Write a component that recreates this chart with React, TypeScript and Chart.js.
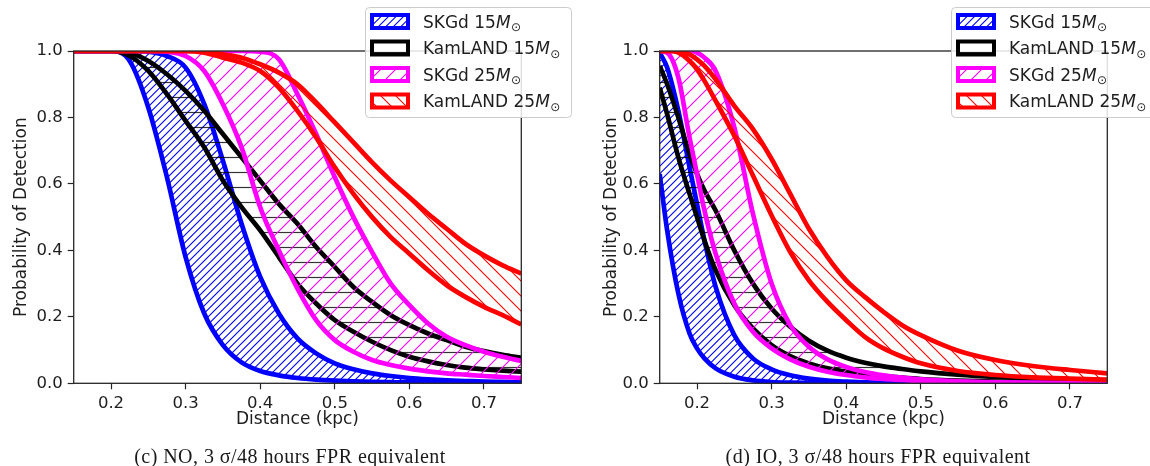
import React, { useEffect, useRef } from 'react';
import { Chart, registerables } from 'chart.js';

Chart.register(...registerables);

// ---------- data ----------
const xTicks = [0.2, 0.3, 0.4, 0.5, 0.6, 0.7];
const yTicks = [0.0, 0.2, 0.4, 0.6, 0.8, 1.0];

const legendNames = ['SKGd 15', 'KamLAND 15', 'SKGd 25', 'KamLAND 25'];
const massUnit = 'M';
const massSub = '⊙';
const xTitle = 'Distance (kpc)';
const yTitle = 'Probability of Detection';
const captions = ['(c) NO, 3 σ/48 hours FPR equivalent', '(d) IO, 3 σ/48 hours FPR equivalent'];

// Normal ordering (NO)
const noDistance = [0.15, 0.175, 0.2, 0.225, 0.25, 0.275, 0.3, 0.325, 0.35, 0.375, 0.4, 0.425, 0.45, 0.475, 0.5, 0.525, 0.55, 0.575, 0.6, 0.625, 0.65, 0.675, 0.7, 0.725, 0.75];
const noSkgd15Lo = [1, 1, 1, 0.97, 0.83, 0.62, 0.38, 0.21, 0.115, 0.063, 0.037, 0.024, 0.016, 0.011, 0.008, 0.006, 0.0045, 0.0035, 0.0025, 0.002, 0.0015, 0.001, 0.0008, 0.0005, 0.0003];
const noSkgd15Hi = [1, 1, 1, 1, 0.998, 0.985, 0.95, 0.84, 0.67, 0.48, 0.32, 0.21, 0.135, 0.09, 0.06, 0.042, 0.03, 0.022, 0.016, 0.012, 0.009, 0.007, 0.005, 0.004, 0.003];
const noKam15Lo = [1, 1, 1, 0.985, 0.94, 0.87, 0.79, 0.71, 0.61, 0.53, 0.46, 0.38, 0.3, 0.24, 0.19, 0.155, 0.125, 0.1, 0.08, 0.066, 0.055, 0.047, 0.042, 0.038, 0.035];
const noKam15Hi = [1, 1, 1, 0.995, 0.97, 0.93, 0.88, 0.82, 0.75, 0.68, 0.61, 0.54, 0.48, 0.41, 0.35, 0.29, 0.245, 0.205, 0.175, 0.15, 0.13, 0.11, 0.097, 0.086, 0.077];
const noSkgd25Lo = [1, 1, 1, 1, 1, 0.998, 0.985, 0.94, 0.84, 0.71, 0.53, 0.4, 0.285, 0.19, 0.13, 0.095, 0.07, 0.055, 0.044, 0.036, 0.03, 0.026, 0.022, 0.019, 0.016];
const noSkgd25Hi = [1, 1, 1, 1, 1, 1, 1, 1, 1, 1, 0.998, 0.975, 0.87, 0.75, 0.62, 0.5, 0.395, 0.3, 0.235, 0.18, 0.14, 0.115, 0.095, 0.08, 0.067];
const noKam25Lo = [1, 1, 1, 1, 1, 1, 1, 0.995, 0.98, 0.965, 0.94, 0.89, 0.82, 0.74, 0.65, 0.57, 0.5, 0.44, 0.39, 0.34, 0.295, 0.26, 0.23, 0.205, 0.177];
const noKam25Hi = [1, 1, 1, 1, 1, 1, 1, 1, 0.99, 0.98, 0.96, 0.935, 0.9, 0.845, 0.785, 0.725, 0.665, 0.61, 0.56, 0.51, 0.465, 0.42, 0.385, 0.355, 0.33];

// Inverted ordering (IO)
const ioDistance = [0.15, 0.16, 0.175, 0.19, 0.2, 0.21, 0.225, 0.25, 0.275, 0.3, 0.325, 0.35, 0.375, 0.4, 0.425, 0.45, 0.475, 0.5, 0.55, 0.6, 0.65, 0.7, 0.75];
const ioSkgd15Lo = [0.63, 0.46, 0.27, 0.15, 0.105, 0.075, 0.045, 0.02, 0.009, 0.004, 0.002, 0.001, 0.0005, 0.0003, 0.0002, 0.0001, 0, 0, 0, 0, 0, 0, 0];
const ioSkgd15Hi = [0.995, 0.95, 0.82, 0.65, 0.54, 0.43, 0.29, 0.145, 0.075, 0.042, 0.024, 0.014, 0.008, 0.005, 0.003, 0.002, 0.0012, 0.0008, 0.0004, 0.0002, 0.0001, 0, 0];
const ioKam15Lo = [0.89, 0.81, 0.68, 0.57, 0.5, 0.43, 0.34, 0.235, 0.165, 0.115, 0.082, 0.06, 0.045, 0.035, 0.028, 0.022, 0.017, 0.013, 0.008, 0.005, 0.003, 0.002, 0.001];
const ioKam15Hi = [0.955, 0.9, 0.8, 0.69, 0.63, 0.58, 0.52, 0.4, 0.3, 0.225, 0.17, 0.128, 0.098, 0.077, 0.062, 0.051, 0.043, 0.036, 0.026, 0.019, 0.014, 0.01, 0.008];
const ioSkgd25Lo = [1, 0.995, 0.92, 0.74, 0.63, 0.52, 0.39, 0.24, 0.155, 0.105, 0.072, 0.05, 0.035, 0.025, 0.018, 0.013, 0.01, 0.007, 0.004, 0.002, 0.001, 0.0005, 0.0003];
const ioSkgd25Hi = [1, 1, 1, 1, 0.995, 0.98, 0.94, 0.77, 0.51, 0.3, 0.175, 0.11, 0.072, 0.049, 0.034, 0.024, 0.017, 0.012, 0.006, 0.003, 0.0015, 0.0008, 0.0004];
const ioKam25Lo = [1, 1, 0.995, 0.97, 0.945, 0.91, 0.85, 0.745, 0.625, 0.505, 0.395, 0.31, 0.245, 0.19, 0.14, 0.105, 0.08, 0.06, 0.037, 0.025, 0.018, 0.014, 0.011];
const ioKam25Hi = [1, 1, 1, 0.99, 0.975, 0.955, 0.915, 0.835, 0.765, 0.675, 0.57, 0.465, 0.38, 0.31, 0.26, 0.215, 0.175, 0.145, 0.098, 0.07, 0.052, 0.04, 0.03];

// ---------- styling ----------
const BLUE = '#0000ff';
const BLACK = '#000000';
const MAGENTA = '#ff00ff';
const RED = '#ff0000';
const TEXT = '#1e1e1e';
const FONT = '"DejaVu Sans", sans-serif';

type HatchKind = 'ne2' | 'h' | 'ne' | 'nw';

function makeHatch(kind: HatchKind, color: string, alpha = 1): CanvasPattern {
  const s = 15;
  const c = document.createElement('canvas');
  c.width = s;
  c.height = s;
  const g = c.getContext('2d')!;
  g.strokeStyle = color;
  g.globalAlpha = alpha;
  g.lineWidth = kind === 'h' ? 1.2 : 1.1;
  g.beginPath();
  if (kind === 'h') {
    g.moveTo(-1, 7.5);
    g.lineTo(s + 1, 7.5);
  } else {
    const step = kind === 'ne2' ? s / 2 : s;
    for (let k = -s; k <= 2 * s + 0.01; k += step) {
      if (kind === 'nw') {
        g.moveTo(k - 2, -2);
        g.lineTo(k + s + 2, s + 2);
      } else {
        g.moveTo(k - s - 2, s + 2);
        g.lineTo(k + 2, -2);
      }
    }
  }
  g.stroke();
  return g.createPattern(c, 'repeat')!;
}

type PanelProps = {
  left: number;
  dist: number[];
  bands: number[][]; // [s15lo, s15hi, k15lo, k15hi, s25lo, s25hi, k25lo, k25hi]
  yTitleCenter: number;
};

const CW = 580;
const CH = 466;
const AREA_LEFT = 73.7;
const AREA_RIGHT = 521.3;
const AREA_TOP = 51;
const AREA_BOTTOM = 383.3;

function Panel({ left, dist, bands, yTitleCenter }: PanelProps) {
  const ref = useRef<HTMLCanvasElement>(null);

  useEffect(() => {
    const canvas = ref.current!;
    const colors = [BLUE, BLACK, MAGENTA, RED];
    const kinds: HatchKind[] = ['ne2', 'h', 'ne', 'nw'];
    const patterns = colors.map((c, i) => makeHatch(kinds[i], c, i === 1 ? 0.8 : 1));
    const pts = (ys: number[]) => dist.map((x, i) => ({ x, y: ys[i] }));

    const datasets: any[] = [];
    // top-most band first (Chart.js draws the first dataset last)
    for (let b = 3; b >= 0; b--) {
      const lo = bands[b * 2];
      const hi = bands[b * 2 + 1];
      datasets.push({
        label: legendNames[b] + ' hi',
        data: pts(hi),
        borderColor: colors[b],
        borderWidth: 4.7,
        fill: false,
        pointRadius: 0,
        cubicInterpolationMode: 'monotone',
        clip: 0,
      });
      datasets.push({
        label: legendNames[b] + ' lo',
        data: pts(lo),
        borderColor: colors[b],
        borderWidth: 4.7,
        backgroundColor: patterns[b],
        fill: '-1',
        pointRadius: 0,
        cubicInterpolationMode: 'monotone',
        clip: 0,
      });
    }

    const yTitleFont = 17;
    const padLeft = yTitleCenter - (yTitleFont * 1.2) / 2;
    const xScaleH = 46;

    const framePlugin = {
      id: 'frame',
      afterDatasetsDraw(chart: any) {
        const { ctx, chartArea: a } = chart;
        ctx.save();
        ctx.strokeStyle = '#262626';
        ctx.lineWidth = 1.3;
        ctx.strokeRect(a.left, a.top, a.right - a.left, a.bottom - a.top);
        ctx.restore();
      },
    };

    const legendPlugin = {
      id: 'hatchLegend',
      afterDraw(chart: any) {
        const { ctx, chartArea: a } = chart;
        const lx = a.right - 156.3;
        const ly = 7;
        const lw = 206;
        const lh = 110;
        ctx.save();
        ctx.beginPath();
        (ctx as any).roundRect(lx + 0.5, ly + 0.5, lw, lh, 4);
        ctx.fillStyle = 'rgba(255,255,255,0.85)';
        ctx.fill();
        ctx.strokeStyle = '#cccccc';
        ctx.lineWidth = 1;
        ctx.stroke();
        for (let i = 0; i < 4; i++) {
          const cy = ly + 14.5 + i * 26.5;
          const px = lx + 7;
          const py = cy - 6.5;
          const pw = 36;
          const ph = 13;
          ctx.fillStyle = '#ffffff';
          ctx.fillRect(px, py, pw, ph);
          ctx.fillStyle = patterns[i];
          ctx.fillRect(px, py, pw, ph);
          ctx.strokeStyle = colors[i];
          ctx.lineWidth = 4;
          ctx.strokeRect(px, py, pw, ph);

          let tx = lx + 58;
          const base = cy + 6;
          ctx.fillStyle = TEXT;
          ctx.textBaseline = 'alphabetic';
          ctx.textAlign = 'left';
          ctx.font = `17px ${FONT}`;
          ctx.fillText(legendNames[i], tx, base);
          tx += ctx.measureText(legendNames[i]).width;
          ctx.font = `oblique 17px ${FONT}`;
          ctx.fillText(massUnit, tx, base);
          tx += ctx.measureText(massUnit).width + 0.5;
          ctx.font = `12px ${FONT}`;
          ctx.fillText(massSub, tx, base + 3.5);
        }
        ctx.restore();
      },
    };

    const chart = new Chart(canvas, {
      type: 'line',
      data: { datasets },
      options: {
        responsive: false,
        animation: false,
        events: [],
        layout: {
          padding: {
            left: padLeft,
            right: CW - AREA_RIGHT,
            top: AREA_TOP,
            bottom: CH - AREA_BOTTOM - xScaleH,
          },
        },
        plugins: {
          legend: { display: false },
          tooltip: { enabled: false },
        },
        scales: {
          x: {
            type: 'linear',
            min: 0.15,
            max: 0.75,
            afterFit: (s: any) => {
              s.height = xScaleH;
            },
            afterBuildTicks: (s: any) => {
              s.ticks = xTicks.map((v) => ({ value: v }));
            },
            ticks: {
              callback: (v: any) => Number(v).toFixed(1),
              font: { family: FONT, size: 16.5 },
              color: TEXT,
              padding: 5,
              maxRotation: 0,
              autoSkip: false,
            },
            grid: {
              display: true,
              drawOnChartArea: false,
              drawTicks: true,
              tickLength: 6,
              tickWidth: 1.2,
              tickColor: '#262626',
            },
            border: { display: false },
            title: {
              display: true,
              text: xTitle,
              color: TEXT,
              font: { family: FONT, size: 17 },
              padding: { top: 0, bottom: 0 },
            },
          },
          y: {
            type: 'linear',
            min: 0,
            max: 1,
            afterFit: (s: any) => {
              s.width = AREA_LEFT - padLeft;
            },
            afterBuildTicks: (s: any) => {
              s.ticks = yTicks.map((v) => ({ value: v }));
            },
            ticks: {
              callback: (v: any) => Number(v).toFixed(1),
              font: { family: FONT, size: 16.5 },
              color: TEXT,
              padding: 5,
              autoSkip: false,
            },
            grid: {
              display: true,
              drawOnChartArea: false,
              drawTicks: true,
              tickLength: 6,
              tickWidth: 1.2,
              tickColor: '#262626',
            },
            border: { display: false },
            title: {
              display: true,
              text: yTitle,
              color: TEXT,
              font: { family: FONT, size: yTitleFont },
              padding: { top: 0, bottom: 0 },
            },
          },
        },
      },
      plugins: [framePlugin, legendPlugin],
    } as any);

    return () => chart.destroy();
  }, []);

  return (
    <canvas
      ref={ref}
      width={CW}
      height={CH}
      style={{ position: 'absolute', left, top: 0, width: CW, height: CH }}
    />
  );
}

const captionStyle: React.CSSProperties = {
  position: 'absolute',
  top: 444,
  width: 500,
  textAlign: 'center',
  fontFamily: '"Liberation Serif", serif',
  fontSize: 20,
  lineHeight: '24px',
  letterSpacing: '0.45px',
  color: '#1a1a1a',
  whiteSpace: 'nowrap',
};

export default function App() {
  return (
    <div
      style={{
        position: 'fixed',
        left: 0,
        top: 0,
        width: 1150,
        height: 466,
        overflow: 'hidden',
        background: '#ffffff',
      }}
    >
      <Panel
        left={0}
        dist={noDistance}
        bands={[noSkgd15Lo, noSkgd15Hi, noKam15Lo, noKam15Hi, noSkgd25Lo, noSkgd25Hi, noKam25Lo, noKam25Hi]}
        yTitleCenter={21.5}
      />
      <Panel
        left={586}
        dist={ioDistance}
        bands={[ioSkgd15Lo, ioSkgd15Hi, ioKam15Lo, ioKam15Hi, ioSkgd25Lo, ioSkgd25Hi, ioKam25Lo, ioKam25Hi]}
        yTitleCenter={25.5}
      />
      <div style={{ ...captionStyle, left: 290 - 250 }}>{captions[0]}</div>
      <div style={{ ...captionStyle, left: 878 - 250 }}>{captions[1]}</div>
    </div>
  );
}
